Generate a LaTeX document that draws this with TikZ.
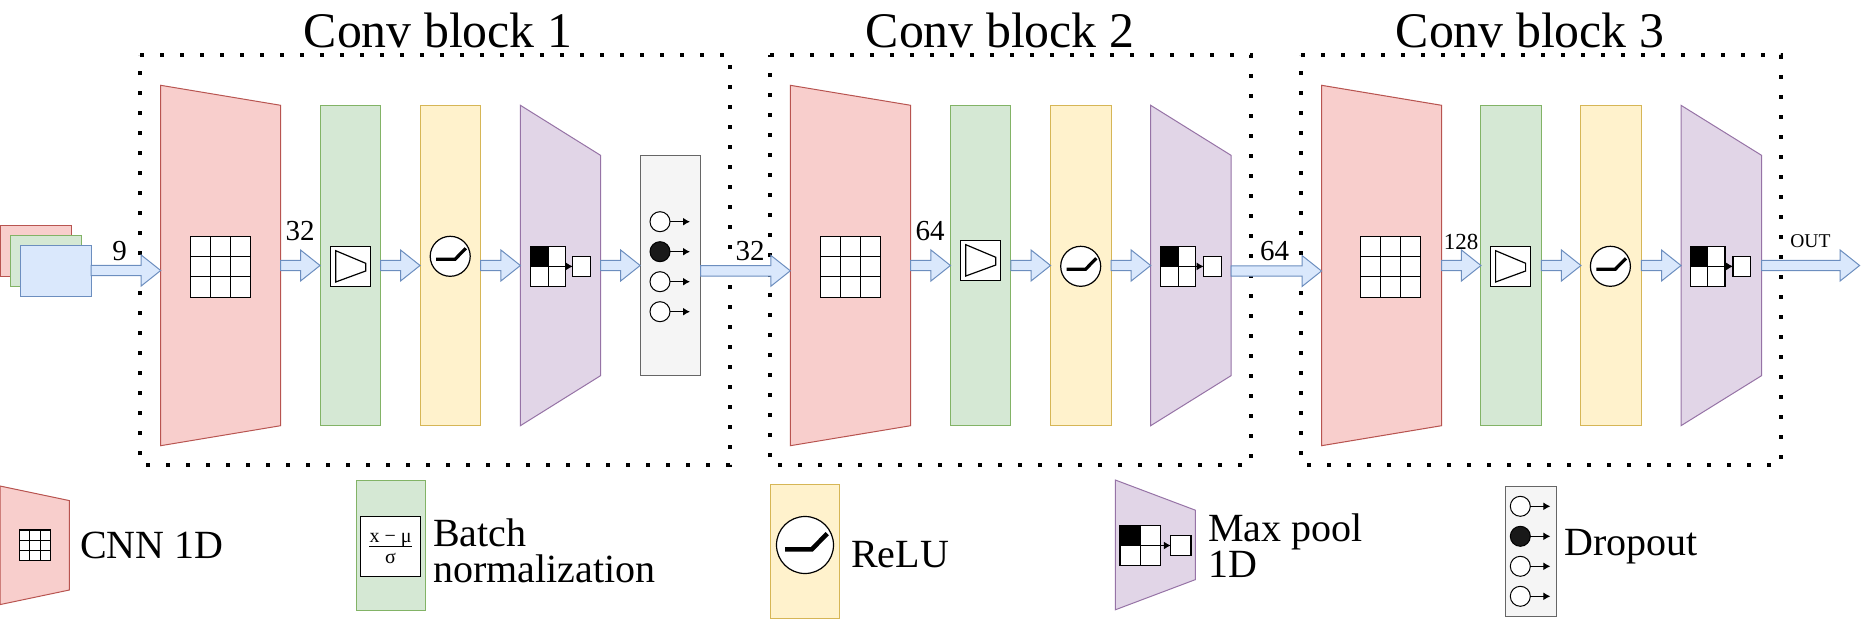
\documentclass[tikz,border=0pt]{standalone}
\usepackage{fontspec}
\setmainfont{Liberation Serif}
\usetikzlibrary{calc,arrows.meta}

\definecolor{cnnfill}{HTML}{F8CECC}
\definecolor{cnnline}{HTML}{B85450}
\definecolor{bnfill}{HTML}{D5E8D4}
\definecolor{bnline}{HTML}{82B366}
\definecolor{relfill}{HTML}{FFF2CC}
\definecolor{relline}{HTML}{D6B656}
\definecolor{poolfill}{HTML}{E1D5E7}
\definecolor{poolline}{HTML}{9673A6}
\definecolor{dropfill}{HTML}{F5F5F5}
\definecolor{dropline}{HTML}{666666}
\definecolor{flowfill}{HTML}{DAE8FC}
\definecolor{flowline}{HTML}{6C8EBF}

\tikzset{
	edge/.style={line width=1pt},
	pointer/.style={line width=1.2pt, -{Latex[length=7pt,width=8pt]}},
	cnnface/.style={edge, fill=cnnfill, draw=cnnline},
	bnface/.style={edge, fill=bnfill, draw=bnline},
	relface/.style={edge, fill=relfill, draw=relline},
	poolface/.style={edge, fill=poolfill, draw=poolline},
	dropface/.style={edge, fill=dropfill, draw=dropline},
	inface/.style={edge, fill=flowfill, draw=flowline},
	bar/.style={
			rectangle,
			inner sep=0pt,
			outer sep=0pt,
			minimum width=60.5pt,
			minimum height=320.4pt,
		},
	input/.style={bar, minimum width=71pt, minimum height=51pt},
	icon/.style={
			rectangle,
			line width=1.2pt,
			draw=black,
			fill=white,
			inner sep=0pt,
			outer sep=0pt,
		},
	flow/.style={
			line width=1pt,
			draw=flowline,
			fill=flowfill,
			to path={
					let \p1=(\tikztostart), \p2=(\tikztotarget) in
					(\x1,\y1+5.2pt) -- (\x2-19.5pt,\y1+5.2pt) -- (\x2-19.5pt,\y1+15.5pt)
					-- (\x2,\y1) -- (\x2-19.5pt,\y1-15.5pt) -- (\x2-19.5pt,\y1-5.2pt)
					-- (\x1,\y1-5.2pt) -- cycle
				},
		},
	dotted box/.style={line width=4pt, dash pattern=on 4pt off 16pt},
	title/.style={font=\fontsize{49.8}{50}\selectfont, anchor=base, inner sep=0pt},
	size/.style={font=\fontsize{29}{29}\selectfont, anchor=base, inner sep=0pt},
	legend/.style={
			font=\fontsize{40}{36}\selectfont,
			anchor=west,
			align=left,
			inner sep=0pt,
		},
}

% name, left, right, centre y, half height left, half height right, face
\newcommand{\taper}[7]{
	\draw[#7] (#2,#4-#5) -- (#3,#4-#6) -- (#3,#4+#6) -- (#2,#4+#5) -- cycle;
	\node[inner sep=0pt, outer sep=0pt, minimum width={(#3-#2)*1pt}, minimum height={2*#6*1pt}]
	(#1) at ({(#2+#3)/2},#4) {};
}
\newcommand{\convgrid}[5]{
	\node[icon, minimum width=#4pt, minimum height=#5pt] (#1) at (#2,#3) {};
	\foreach \f in {.333,.667} {
			\draw[line width=1pt] ($(#1.north west)!\f!(#1.north east)$) -- ($(#1.south west)!\f!(#1.south east)$);
			\draw[line width=1pt] ($(#1.north west)!\f!(#1.south west)$) -- ($(#1.north east)!\f!(#1.south east)$);
		}
}
\newcommand{\normicon}[3]{
	\begin{scope}[shift={(#2,#3)}]
		\node[icon, minimum size=40pt] (#1) at (0,0) {};
		\draw[line width=1.2pt] (-14.8,-15.6) -- (15.2,-3) -- (15.2,4.7) -- (-14.8,15.7) -- cycle;
	\end{scope}
}
\newcommand{\relicon}[4]{
	\begin{scope}[shift={(#2,#3)}]
		\node[icon, circle, minimum size=#4pt] (#1) at (0,0) {};
		\draw[line width=.08*#4pt] (-.35*#4,.075*#4) -- (.12*#4,.075*#4) -- (.39*#4,-.2*#4);
	\end{scope}
}
% name, grid x, small box x, y, grid width
\newcommand{\poolicon}[5]{
	\node[icon, minimum width=#5pt, minimum height=40.4pt] (#1) at (#2,#4) {};
	\fill (#1.north west) rectangle (#1.center);
	\draw[line width=1pt] (#1.north) -- (#1.south);
	\draw[line width=1pt] (#1.west) -- (#1.east);
	\node[icon, minimum width=.5*#5pt, minimum height=20pt] (#1s) at (#3,#4) {};
	\draw[pointer] (#1.center) -- (#1s.west);
}
\newcommand{\dropicon}[3]{
	\foreach \i/\c in {0/white,1/black!90,2/white,3/white} {
			\node[icon, circle, fill=\c, line width=1pt, minimum size=20pt] (#1n\i) at (#2,#3+30*\i) {};
			\coordinate (#1o\i) at ([xshift=20pt]#1n\i.east);
			\draw[pointer] (#1n\i.east) -- (#1o\i);
		}
}
\newcommand{\convbox}[2]{
	\draw[dotted box] (#1,55) -- (#2,55) -- (#2,465) -- (#1,465) -- cycle;
}

\begin{document}
\begin{tikzpicture}[x=1pt, y=-1pt]
	\useasboundingbox (0,0) rectangle (1861,626);

	\convbox{140}{730}
	\convbox{770}{1251}
	\convbox{1301}{1781}

	\node[title] (titleA) at (438,47.5) {Conv block 1};
	\node[title] (titleB) at (1000,47.5) {Conv block 2};
	\node[title] (titleC) at (1530,47.5) {Conv block 3};

	\node[input, cnnface] (inR) at (35.5,250.5) {};
	\node[input, bnface] (inG) at (45.5,260.5) {};
	\node[input, inface] (inB) at (55.5,270.5) {};

	% block 1
	\taper{cnnA}{160.7}{280.6}{265.5}{180.2}{160.2}{cnnface}
	\convgrid{gridA}{220.6}{266.8}{60.2}{61}
	\node[bar, bnface] (bnA) at (350.3,265.5) {};
	\normicon{normA}{350.5}{266.3}
	\node[bar, relface] (relA) at (450.3,265.5) {};
	\relicon{curveA}{450.2}{256.3}{40}
	\taper{poolA}{520.4}{600.5}{265.5}{160.2}{110.2}{poolface}
	\poolicon{mapA}{548}{581.7}{266.4}{35.4}
	\node[bar, dropface, minimum height=220pt] (dropA) at (670.4,265.3) {};
	\dropicon{dotA}{660}{221.7}

	% block 2
	\taper{cnnB}{790.3}{910.7}{265.5}{180.2}{160.2}{cnnface}
	\convgrid{gridB}{850.5}{266.8}{60.4}{61}
	\node[bar, bnface] (bnB) at (980.7,265.5) {};
	\normicon{normB}{980.6}{260.3}
	\node[bar, relface] (relB) at (1080.8,265.5) {};
	\relicon{curveB}{1080.7}{266.3}{40}
	\taper{poolB}{1150.7}{1231}{265.5}{160.2}{110.2}{poolface}
	\poolicon{mapB}{1178.1}{1212.4}{266.4}{34.8}

	% block 3
	\taper{cnnC}{1321.5}{1441.5}{265.5}{180.2}{160.2}{cnnface}
	\convgrid{gridC}{1390.5}{266.8}{60.3}{61}
	\node[bar, bnface] (bnC) at (1511.2,265.5) {};
	\normicon{normC}{1510.4}{266.3}
	\node[bar, relface] (relC) at (1611.2,265.5) {};
	\relicon{curveC}{1610.4}{266.3}{40}
	\taper{poolC}{1681}{1761.5}{265.5}{160.2}{110.2}{poolface}
	\poolicon{mapC}{1707.7}{1741.7}{266.4}{34.6}

	\coordinate (out) at (1859.6,265.7);

	\draw[flow] (inB.east) to (cnnA.west);
	\draw[flow] (cnnA.east) to (bnA.west);
	\draw[flow] (bnA.east) to (relA.west);
	\draw[flow] (relA.east) to (poolA.west);
	\draw[flow] (poolA.east) to (dropA.west);
	\draw[flow] ([yshift=-5.5pt]dropA.east) to (cnnB.west);
	\draw[flow] (cnnB.east) to (bnB.west);
	\draw[flow] (bnB.east) to (relB.west);
	\draw[flow] (relB.east) to (poolB.west);
	\draw[flow] ([yshift=-5.5pt]poolB.east) to (cnnC.west);
	\draw[flow] (cnnC.east) to (bnC.west);
	\draw[flow] (bnC.east) to (relC.west);
	\draw[flow] (relC.east) to (poolC.west);
	\draw[flow] (poolC.east) to (out);

	\node[size] (sizeA) at (119.5,260.7) {9};
	\node[size] (sizeB) at (300,240.7) {32};
	\node[size] (sizeC) at (750,260.7) {32};
	\node[size] (sizeD) at (930,240.7) {64};
	\node[size] (sizeE) at (1274.5,260.7) {64};
	\node[size, font=\fontsize{23}{23}\selectfont] (sizeF) at (1461,249.3) {128};
	\node[size, font=\fontsize{19.5}{19.5}\selectfont] (sizeG) at (1810.4,247.7) {OUT};

	% legend
	\taper{keyCnn}{0}{69.4}{545.3}{59.3}{44.7}{cnnface}
	\convgrid{keyGrid}{35}{545.2}{30.8}{30.3}
	\node[legend] (txtCnn) at (80,545.5) {CNN 1D};

	\node[bar, bnface, minimum width=69.4pt, minimum height=130pt] (keyBn) at (391.2,545.3) {};
	\node[icon, minimum size=60pt] (keyNorm) at (390.5,546.5) {};
	\node[inner sep=0pt, outer sep=0pt, anchor=south, minimum width=43pt, font=\fontsize{20}{20}\selectfont] (keyNum) at (390.6,546.3) {x − μ};
	\draw[line width=1.2pt] (keyNum.south west) -- (keyNum.south east);
	\node[inner sep=0pt, anchor=base, font=\fontsize{20}{20}\selectfont] (keyDen) at (390.6,563.3) {σ};
	\node[legend] (txtBn) at (433,550.5) {Batch\\normalization};

	\node[bar, relface, minimum width=68.8pt, minimum height=134pt] (keyRel) at (804.9,551.3) {};
	\relicon{keyCurve}{805}{545}{57}
	\node[legend, anchor=base west] (txtRel) at (851,567.7) {ReLU};

	\taper{keyPool}{1115.3}{1195.4}{544.9}{64.9}{34.7}{poolface}
	\poolicon{keyMap}{1140.2}{1180.9}{545.5}{40.4}
	\node[legend] (txtPool) at (1208,545.3) {Max pool\\1D};

	\node[bar, dropface, minimum width=50.5pt, minimum height=130pt] (keyDrop) at (1531.2,551.3) {};
	\dropicon{keyDot}{1520.3}{506.3}
	\node[legend, anchor=base west] (txtDrop) at (1564,555) {Dropout};
\end{tikzpicture}
\end{document}
